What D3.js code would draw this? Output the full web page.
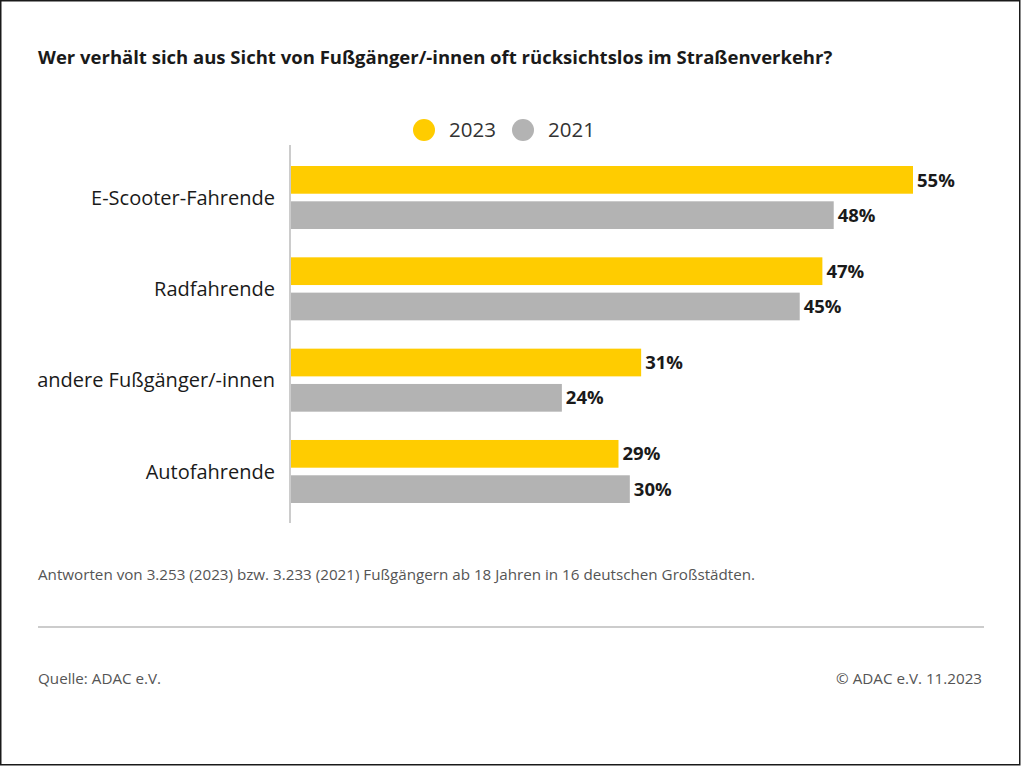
<!DOCTYPE html>
<html>
<head>
<meta charset="utf-8">
<script src="https://cdn.jsdelivr.net/npm/d3@7"></script>
<style>
  body { margin: 0; background: #fff; }
  svg { display: block; font-family: "Open Sans", "Noto Sans", sans-serif; }
</style>
</head>
<body>
<svg id="chart" width="1022" height="767"></svg>
<script>
const categories = ["E-Scooter-Fahrende", "Radfahrende", "andere Fußgänger/-innen", "Autofahrende"];
const seriesNames = ["2023", "2021"];
const values2023 = [55, 47, 31, 29];
const values2021 = [48, 45, 24, 30];
const colors = ["#FFCC00", "#B3B3B3"];

const svg = d3.select("#chart"),
    width = +svg.attr("width"),
    height = +svg.attr("height");

// frame
svg.append("rect")
    .attr("x", 0.75).attr("y", 0.75)
    .attr("width", width - 3).attr("height", height - 3)
    .attr("fill", "#fff")
    .attr("stroke", "#1a1a1a")
    .attr("stroke-width", 1.5);

svg.append("text")
    .attr("x", 38).attr("y", 64)
    .attr("font-size", 18.5)
    .attr("font-weight", "bold")
    .attr("fill", "#1a1a1a")
    .text("Wer verhält sich aus Sicht von Fußgänger/-innen oft rücksichtslos im Straßenverkehr?");

// legend
const legend = svg.append("g").attr("transform", "translate(424,130)");
seriesNames.forEach((name, i) => {
    const g = legend.append("g").attr("transform", `translate(${i * 99},0)`);
    g.append("circle").attr("r", 11).attr("fill", colors[i]);
    g.append("text")
        .attr("x", 25).attr("y", 7)
        .attr("font-size", 20.5)
        .attr("fill", "#333")
        .text(name);
});

const x = d3.scaleLinear().domain([0, 55]).range([290, 913]);
const y = d3.scaleBand().domain(categories).range([166, 503]).paddingInner(0.31).paddingOuter(0);
const sub = d3.scaleBand().domain(seriesNames).range([0, y.bandwidth()]).paddingInner(0.215);

const data = categories.map((c, i) => ({
    cat: c,
    vals: [
        { s: "2023", v: values2023[i] },
        { s: "2021", v: values2021[i] }
    ]
}));

const groups = svg.append("g").selectAll("g")
    .data(data)
    .enter().append("g")
    .attr("transform", d => `translate(0,${y(d.cat)})`);

groups.selectAll("rect")
    .data(d => d.vals)
    .enter().append("rect")
    .attr("x", x(0))
    .attr("y", d => sub(d.s))
    .attr("width", d => x(d.v) - x(0))
    .attr("height", sub.bandwidth())
    .attr("fill", (d, i) => colors[i]);

groups.selectAll("text.val")
    .data(d => d.vals)
    .enter().append("text")
    .attr("class", "val")
    .attr("x", d => x(d.v) + 4)
    .attr("y", d => sub(d.s) + sub.bandwidth() / 2)
    .attr("dy", "0.36em")
    .attr("font-size", 18.5)
    .attr("font-weight", "bold")
    .attr("fill", "#1a1a1a")
    .text(d => d.v + "%");

groups.append("text")
    .attr("x", 275)
    .attr("y", y.bandwidth() / 2)
    .attr("dy", "0.36em")
    .attr("text-anchor", "end")
    .attr("font-size", 20)
    .attr("fill", "#1a1a1a")
    .text(d => d.cat);

// axis line
svg.append("line")
    .attr("x1", x(0)).attr("x2", x(0))
    .attr("y1", 145).attr("y2", 523)
    .attr("stroke", "#cccccc")
    .attr("stroke-width", 2);

svg.append("text")
    .attr("x", 38).attr("y", 580)
    .attr("font-size", 15.2)
    .attr("fill", "#555")
    .text("Antworten von 3.253 (2023) bzw. 3.233 (2021) Fußgängern ab 18 Jahren in 16 deutschen Großstädten.");

svg.append("line")
    .attr("x1", 38).attr("x2", 984)
    .attr("y1", 627).attr("y2", 627)
    .attr("stroke", "#cccccc")
    .attr("stroke-width", 2);

svg.append("text")
    .attr("x", 38).attr("y", 684)
    .attr("font-size", 15.2)
    .attr("fill", "#555")
    .text("Quelle: ADAC e.V.");

svg.append("text")
    .attr("x", 982).attr("y", 684)
    .attr("text-anchor", "end")
    .attr("font-size", 15.2)
    .attr("fill", "#555")
    .text("© ADAC e.V. 11.2023");
</script>
</body>
</html>
